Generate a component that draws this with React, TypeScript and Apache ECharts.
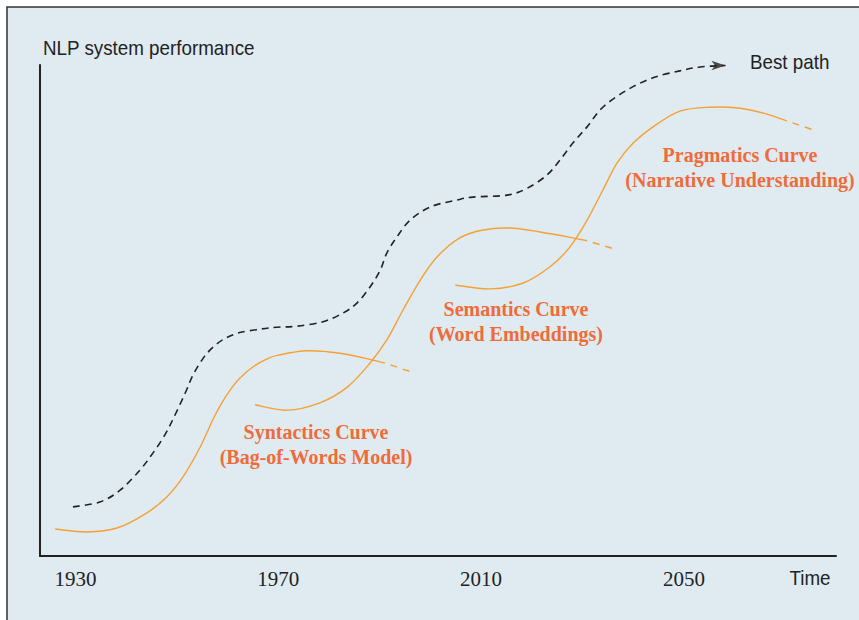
import React, { useEffect, useRef } from "react";
import * as echarts from "echarts";

// x: year, y: performance index (0-100)
const xTickYears = [1930, 1970, 2010, 2050];

const bestPath: [number, number][] = [
  [1929.5, 10.0], [1934.8, 11.0], [1938.8, 13.4], [1942.7, 17.5], [1945.3, 21.0],
  [1947.6, 24.6], [1949.3, 28.0], [1951.6, 33.1], [1953.2, 36.9], [1955.2, 40.3],
  [1957.2, 42.6], [1959.5, 44.3], [1962.4, 45.5], [1966.4, 46.2], [1969.7, 46.6],
  [1973.7, 46.8], [1978.8, 47.7],
  [1982.8, 49.5], [1985.5, 51.5], [1988.1, 54.8], [1990.1, 58.2], [1991.4, 61.7],
  [1993.4, 65.0], [1996.0, 68.4], [2000.0, 71.1], [2005.2, 72.5], [2008.4, 73.1],
  [2015.1, 73.5], [2019.1, 74.9], [2023.0, 77.6], [2025.6, 80.7], [2028.1, 84.1],
  [2030.9, 87.4], [2034.0, 91.4], [2038.8, 94.9], [2043.9, 97.4], [2049.2, 98.8],
  [2053.2, 99.6], [2058.2, 99.9],
];
const bestPathArrow: [number, number][] = [[2058.2, 99.9]];

const syntactics: [number, number][] = [
  [1926.0, 5.5], [1932.3, 4.9], [1938.2, 5.7], [1944.1, 8.8], [1948.0, 12.0],
  [1951.2, 16.1], [1954.6, 22.2], [1957.2, 28.0], [1958.8, 31.1], [1960.5, 33.8],
  [1962.4, 36.2], [1965.1, 38.6], [1967.7, 40.1], [1970.0, 40.9],
  [1975.7, 41.8], [1982.2, 41.3], [1988.7, 39.9], [1991.0, 39.3],
];
const syntacticsTail: [number, number][] = [[1991.0, 39.3], [1996.8, 37.3]];

const semantics: [number, number][] = [
  [1965.4, 30.8], [1971.7, 29.7], [1978.2, 31.2], [1983.6, 34.4], [1988.1, 39.3],
  [1991.4, 44.0], [1994.6, 50.1], [1998.0, 56.2], [2001.3, 60.9], [2005.8, 64.8],
  [2010.4, 66.4], [2015.7, 66.8], [2021.6, 66.0], [2028.1, 64.8], [2030.9, 64.2],
];
const semanticsTail: [number, number][] = [[2030.9, 64.2], [2036.4, 62.5]];

const pragmatics: [number, number][] = [
  [2004.9, 55.2], [2011.8, 54.4], [2018.3, 55.6], [2023.6, 58.9], [2027.5, 62.9],
  [2030.9, 68.4], [2034.0, 74.5], [2036.8, 80.0], [2040.0, 84.1], [2043.9, 87.4],
  [2049.2, 90.6], [2055.1, 91.4], [2061.1, 91.2], [2066.4, 90.0], [2070.3, 88.6],
];
const pragmaticsTail: [number, number][] = [[2070.3, 88.6], [2075.5, 86.8]];

const curveLabels = [
  { lines: ["Syntactics Curve", "(Bag-of-Words Model)"], x: 316, y: 432 },
  { lines: ["Semantics Curve", "(Word Embeddings)"], x: 516, y: 309 },
  { lines: ["Pragmatics Curve", "(Narrative Understanding)"], x: 740, y: 155 },
];

const ORANGE = "#f5a033";
const LABEL = "#ef6b3a";
const DARK = "#222";
const SANS = '"Liberation Sans", sans-serif';
const SERIF = '"Liberation Serif", serif';

// Catmull-Rom spline through the pixel coordinates given by the axes
function splinePath(pts: number[][]): string {
  if (pts.length < 2) return "";
  let d = `M${pts[0][0]},${pts[0][1]}`;
  if (pts.length === 2) return d + `L${pts[1][0]},${pts[1][1]}`;
  for (let i = 0; i < pts.length - 1; i++) {
    const p0 = pts[Math.max(0, i - 1)];
    const p1 = pts[i];
    const p2 = pts[i + 1];
    const p3 = pts[Math.min(pts.length - 1, i + 2)];
    const c1x = p1[0] + (p2[0] - p0[0]) / 6;
    const c1y = p1[1] + (p2[1] - p0[1]) / 6;
    const c2x = p2[0] - (p3[0] - p1[0]) / 6;
    const c2y = p2[1] - (p3[1] - p1[1]) / 6;
    d += `C${c1x},${c1y},${c2x},${c2y},${p2[0]},${p2[1]}`;
  }
  return d;
}

function curveSeries(data: [number, number][], color: string, width: number, dash?: number[], dashOffset = 0, z = 3) {
  return {
    type: "custom",
    coordinateSystem: "cartesian2d",
    data,
    encode: { x: 0, y: 1 },
    z,
    silent: true,
    renderItem: (params: any, api: any) => {
      if (params.dataIndex !== 0) return null;
      const pts = data.map((p) => api.coord(p));
      return {
        type: "path",
        shape: { pathData: splinePath(pts) },
        style: {
          stroke: color,
          fill: "none",
          lineWidth: width,
          lineDash: dash || null,
          lineDashOffset: dashOffset,
        },
      };
    },
  };
}

export default function App() {
  const ref = useRef<HTMLDivElement>(null);
  useEffect(() => {
    const chart = echarts.init(ref.current!, null, { renderer: "svg" });

    const sansText = (text: string, x: number, y: number, align: string) => ({
      type: "text",
      x,
      y,
      scaleX: 0.94,
      style: { text, font: `20px ${SANS}`, fill: DARK, align, verticalAlign: "middle" },
    });

    const graphics: any[] = [
      {
        type: "rect",
        shape: { x: 7, y: 7, width: 900, height: 700 },
        style: { fill: "#dfebf1", stroke: "#333", lineWidth: 1.5 },
        z: -10,
        silent: true,
      },
      sansText("NLP system performance", 43, 48, "left"),
      sansText("Best path", 750, 62, "left"),
      sansText("Time", 810, 578, "center"),
    ];
    curveLabels.forEach((l) => {
      l.lines.forEach((t, i) => {
        graphics.push({
          type: "text",
          x: l.x,
          y: l.y + i * 25,
          style: { text: t, font: `bold 20px ${SERIF}`, fill: LABEL, align: "center", verticalAlign: "middle" },
        });
      });
    });

    chart.setOption({
      animation: false,
      backgroundColor: "#ffffff",
      grid: { left: 40, right: 23, top: 65, bottom: 64, containLabel: false },
      xAxis: {
        type: "value",
        min: 1923,
        max: 2080,
        axisLine: { show: true, onZero: false, lineStyle: { color: DARK, width: 2 } },
        axisTick: { show: false },
        splitLine: { show: false },
        axisLabel: {
          customValues: xTickYears,
          formatter: (v: number) => String(v),
          fontFamily: SERIF,
          fontSize: 21,
          color: DARK,
          margin: 12,
        },
      },
      yAxis: {
        type: "value",
        min: 0,
        max: 100,
        axisLine: { show: true, onZero: false, lineStyle: { color: DARK, width: 2 } },
        axisTick: { show: false },
        axisLabel: { show: false },
        splitLine: { show: false },
      },
      graphic: graphics,
      series: [
        curveSeries(bestPath, DARK, 1.6, [7, 5], 0, 4),
        {
          type: "scatter",
          data: bestPathArrow,
          symbol: "arrow",
          symbolSize: [7, 14],
          symbolRotate: -90,
          itemStyle: { color: DARK },
          z: 5,
          silent: true,
        },
        curveSeries(syntactics, ORANGE, 1.4),
        curveSeries(syntacticsTail, ORANGE, 1.4, [7, 6], 7),
        curveSeries(semantics, ORANGE, 1.4),
        curveSeries(semanticsTail, ORANGE, 1.4, [7, 6], 7),
        curveSeries(pragmatics, ORANGE, 1.4),
        curveSeries(pragmaticsTail, ORANGE, 1.4, [7, 6], 7),
      ],
    });
    return () => chart.dispose();
  }, []);
  return <div ref={ref} style={{ position: "fixed", left: 0, top: 0, width: 859, height: 620 }} />;
}
